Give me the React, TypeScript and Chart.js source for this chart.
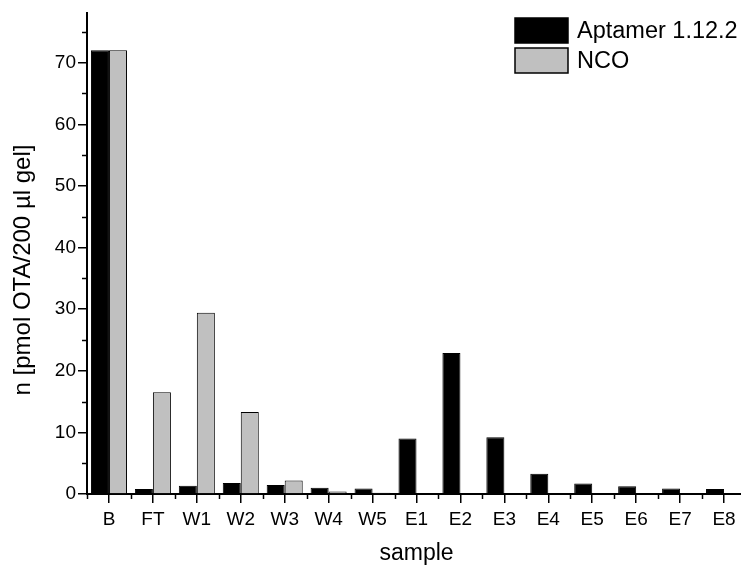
import React, { useEffect, useRef } from "react";
import { Chart, registerables } from "chart.js";

Chart.register(...registerables);

const categories = ["B", "FT", "W1", "W2", "W3", "W4", "W5", "E1", "E2", "E3", "E4", "E5", "E6", "E7", "E8"];
const aptamerValues = [72, 0.8, 1.35, 1.8, 1.45, 1.0, 0.9, 9.0, 22.9, 9.2, 3.3, 1.7, 1.25, 0.9, 0.8];
const ncoValues = [72, 16.5, 29.4, 13.3, 2.2, 0.4, 0.2, 0.1, 0.1, 0, 0, 0, 0, 0, 0];
const seriesNames = ["Aptamer 1.12.2", "NCO"];
const yTickValues = [0, 10, 20, 30, 40, 50, 60, 70];
const yMinorValues = [5, 15, 25, 35, 45, 55, 65, 75];
const yTitle = "n [pmol OTA/200 µl gel]";
const xTitle = "sample";

const FONT = "'Liberation Sans', Arial, Helvetica, sans-serif";

const extrasPlugin = {
  id: "extras",
  afterDraw(chart: any) {
    const ctx = chart.ctx;
    const xs = chart.scales.x;
    const ys = chart.scales.y;
    ctx.save();
    ctx.strokeStyle = "#000";
    ctx.lineWidth = 1.5;
    // minor x ticks at category boundaries
    for (let i = 0; i <= categories.length; i++) {
      const px = Math.round(xs.getPixelForValue(i - 0.5)) + 0.5;
      ctx.beginPath();
      ctx.moveTo(px, ys.bottom);
      ctx.lineTo(px, ys.bottom + 5);
      ctx.stroke();
    }
    // minor y ticks
    for (const v of yMinorValues) {
      const py = Math.round(ys.getPixelForValue(v)) + 0.5;
      ctx.beginPath();
      ctx.moveTo(xs.left, py);
      ctx.lineTo(xs.left - 5, py);
      ctx.stroke();
    }
    // y title
    ctx.save();
    ctx.translate(23, 270);
    ctx.rotate(-Math.PI / 2);
    ctx.font = "24px " + FONT;
    ctx.fillStyle = "#000";
    ctx.textAlign = "center";
    ctx.textBaseline = "middle";
    ctx.fillText(yTitle, 0, 0);
    ctx.restore();
    // legend
    const ds = chart.data.datasets;
    const boxX = 515;
    const boxW = 53;
    const boxH = 25;
    const tops = [18, 48];
    ctx.font = "23.5px " + FONT;
    ctx.textBaseline = "middle";
    ctx.textAlign = "left";
    ds.forEach((d: any, i: number) => {
      ctx.fillStyle = d.backgroundColor;
      ctx.fillRect(boxX, tops[i], boxW, boxH);
      ctx.lineWidth = 1.5;
      ctx.strokeStyle = "#000";
      ctx.strokeRect(boxX, tops[i], boxW, boxH);
      ctx.fillStyle = "#000";
      ctx.fillText(d.label, 577, tops[i] + boxH / 2 + 1);
    });
    ctx.restore();
  },
};

export default function App() {
  const ref = useRef<HTMLCanvasElement | null>(null);
  useEffect(() => {
    if (!ref.current) return;
    const chart = new Chart(ref.current, {
      type: "bar",
      data: {
        labels: categories,
        datasets: [
          {
            label: seriesNames[0],
            data: aptamerValues,
            backgroundColor: "#000000",
            borderColor: "#000000",
            borderWidth: 1,
          },
          {
            label: seriesNames[1],
            data: ncoValues,
            backgroundColor: "#c0c0c0",
            borderColor: "#000000",
            borderWidth: 1,
          },
        ],
      },
      options: {
        responsive: false,
        animation: false,
        devicePixelRatio: 1,
        layout: { padding: { top: 13, right: 6, left: 0, bottom: 0 } },
        datasets: { bar: { barPercentage: 1, categoryPercentage: 0.82 } },
        plugins: { legend: { display: false }, tooltip: { enabled: false } },
        scales: {
          x: {
            offset: true,
            grid: {
              display: true,
              offset: false,
              drawOnChartArea: false,
              drawTicks: true,
              tickLength: 9,
              color: "#000",
              lineWidth: 1.5,
            },
            border: { display: true, color: "#000", width: 2 },
            ticks: {
              color: "#000",
              font: { family: FONT, size: 19 },
              padding: 5,
              maxRotation: 0,
              autoSkip: false,
            },
            title: {
              display: true,
              text: xTitle,
              color: "#000",
              font: { family: FONT, size: 23 },
              padding: { top: 0, bottom: 0 },
            },
            afterFit(scale: any) {
              scale.height = 73;
            },
          },
          y: {
            min: 0,
            max: 78,
            grid: {
              display: true,
              drawOnChartArea: false,
              drawTicks: true,
              tickLength: 9,
              color: "#000",
              lineWidth: 1.5,
            },
            border: { display: true, color: "#000", width: 2 },
            ticks: {
              stepSize: 10,
              color: "#000",
              font: { family: FONT, size: 19 },
              padding: 2,
            },
            afterBuildTicks(scale: any) {
              scale.ticks = yTickValues.map((v) => ({ value: v }));
            },
            afterFit(scale: any) {
              scale.width = 87;
            },
          },
        },
      },
      plugins: [extrasPlugin],
    } as any);
    return () => chart.destroy();
  }, []);
  return (
    <div style={{ position: "absolute", left: 0, top: 0, width: 741, height: 567, overflow: "hidden", background: "#fff" }}>
      <canvas ref={ref} width={752} height={567} style={{ display: "block" }} />
    </div>
  );
}
